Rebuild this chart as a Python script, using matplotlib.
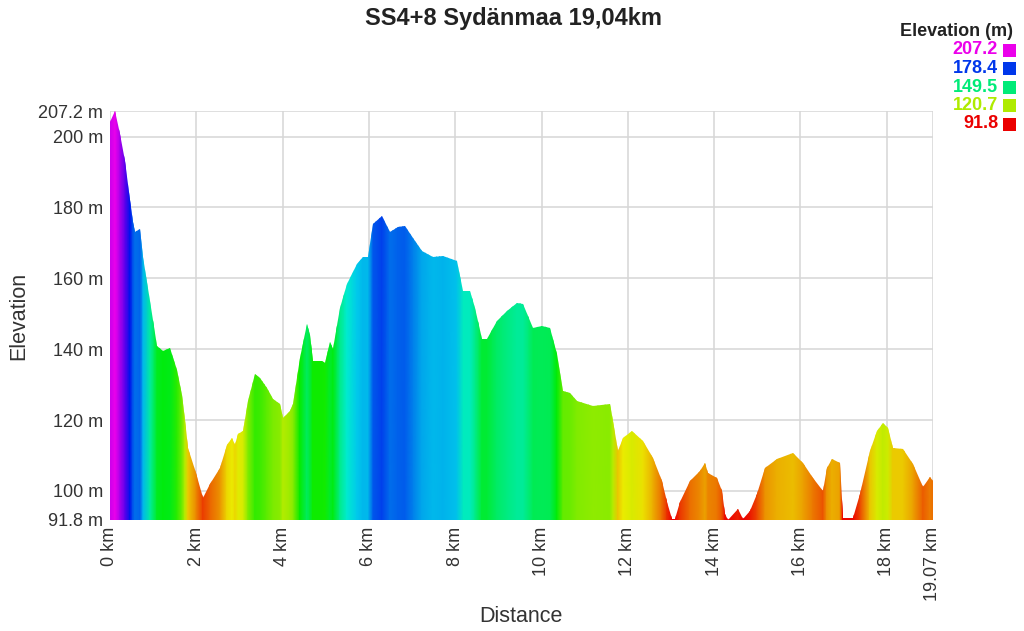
import numpy as np
import matplotlib
matplotlib.use("Agg")
import matplotlib.pyplot as plt
import matplotlib.colors as mcolors
from matplotlib.patches import Polygon

plt.rcParams['font.family'] = ['Liberation Sans', 'DejaVu Sans']

# distance (km) and elevation (m)
dist = [0.0, 0.12, 0.23, 0.35, 0.46, 0.53, 0.58, 0.70, 0.77, 0.93, 1.09, 1.23, 1.39,
        1.55, 1.67, 1.74, 1.81, 2.0, 2.15, 2.32, 2.55, 2.71, 2.83, 2.90, 2.97, 3.08,
        3.2, 3.36, 3.48, 3.63, 3.78, 3.94, 4.01, 4.17, 4.24, 4.40, 4.56, 4.63, 4.70,
        4.91, 4.98, 5.1, 5.17, 5.33, 5.49, 5.72, 5.86, 5.98, 6.1, 6.30, 6.49, 6.67,
        6.83, 7.03, 7.22, 7.48, 7.72, 8.03, 8.19, 8.34, 8.46, 8.62, 8.73, 8.96, 9.2,
        9.43, 9.58, 9.81, 10.0, 10.2, 10.35, 10.5, 10.66, 10.82, 11.2, 11.58, 11.66,
        11.77, 11.89, 12.09, 12.35, 12.58, 12.79, 12.9, 13.02, 13.09, 13.2, 13.44,
        13.67, 13.79, 13.86, 14.06, 14.18, 14.25, 14.32, 14.55, 14.67, 14.83, 14.99,
        15.18, 15.45, 15.83, 16.06, 16.29, 16.52, 16.61, 16.73, 16.91, 16.98, 17.22,
        17.38, 17.61, 17.77, 17.91, 18.03, 18.14, 18.37, 18.61, 18.84, 19.0, 19.07]
elev = [204, 207.2, 200.8, 193, 182, 176, 173, 174, 166, 153.7, 141, 139.5, 140.4,
        134, 127, 120, 112, 105, 98, 102, 106.5, 113, 115, 113, 116, 117,
        125.4, 133, 132, 129, 126, 124.5, 120.6, 122.6, 124.5, 137.6, 147, 144, 136.7,
        136.7, 136, 142, 140, 151.7, 158.5, 164, 166, 166, 175.4, 177.7, 173, 174.6,
        174.9, 171.5, 167.8, 166, 166.4, 165, 156.5, 156.5, 151.7, 143, 143, 148, 150.8,
        153, 152.8, 146, 146.6, 146, 138.7, 128.2, 127.7, 125.4, 124, 124.6, 119.8,
        111.3, 115, 117, 114, 109.3, 102.8, 97, 92, 92, 97, 102.8,
        105.6, 108, 105, 103.7, 100, 93.5, 91.8, 95, 92, 94.4, 99,
        106.5, 109, 110.7, 108, 103.7, 100, 106.5, 109, 108, 92.4, 92.4,
        99, 111.3, 117, 119.2, 117.8, 112, 111.8, 107.6, 101, 104, 102.8]

y_ticks = [91.8, 100, 120, 140, 160, 180, 200, 207.2]
y_labels = ['91.8 m', '100 m', '120 m', '140 m', '160 m', '180 m', '200 m', '207.2 m']
x_ticks = [0, 2, 4, 6, 8, 10, 12, 14, 16, 18, 19.07]
x_labels = ['0 km', '2 km', '4 km', '6 km', '8 km', '10 km', '12 km', '14 km',
            '16 km', '18 km', '19.07 km']
legend_vals = [207.2, 178.4, 149.5, 120.7, 91.8]

ymin, ymax = 91.8, 207.2
xmax = 19.07

# hue from red (low) to magenta (high)
h = np.linspace(0, 300 / 360, 256)
hsv = np.stack([h, np.ones_like(h), np.full_like(h, 0.92)], axis=1)
cmap = mcolors.ListedColormap(mcolors.hsv_to_rgb(hsv))
norm = mcolors.Normalize(ymin, ymax)

fig = plt.figure(figsize=(10.24, 6.31), dpi=100)
ax = fig.add_axes([0.1074, 0.176, 0.8037, 0.648])

d = np.array(dist)
e = np.array(elev)
X = np.vstack([d, d])
Y = np.vstack([np.full_like(d, ymin), np.full_like(d, ymax)])
C = np.vstack([e, e])
mesh = ax.pcolormesh(X, Y, C, cmap=cmap, norm=norm, shading='gouraud', zorder=2)
verts = np.column_stack([np.r_[d, d[-1], d[0]], np.r_[e, ymin, ymin]])
clip = Polygon(verts, closed=True, transform=ax.transData, facecolor='none', edgecolor='none')
ax.add_patch(clip)
mesh.set_clip_path(clip)

ax.set_xlim(0, xmax)
ax.set_ylim(ymin, ymax)
ax.set_xticks(x_ticks)
ax.set_xticklabels(x_labels, rotation=90)
ax.set_yticks(y_ticks)
ax.set_yticklabels(y_labels)
ax.tick_params(length=0, labelsize=13, colors='#333333', pad=5)
ax.grid(True, color='#d6d6d6', linewidth=1.1, zorder=0)
ax.set_axisbelow(True)
for s in ax.spines.values():
    s.set_visible(False)

fig.text(521 / 1024, 1 - 617 / 631, 'Distance', ha='center', va='center',
         fontsize=15.5, color='#333333')
fig.text(19 / 1024, 1 - 316 / 631, 'Elevation', ha='center', va='center',
         rotation=90, fontsize=15.5, color='#333333')
fig.text(0.501, 0.971, 'SS4+8 Sydänmaa 19,04km', ha='center', va='center',
         fontsize=17, fontweight='bold', color='#222222')

# colour legend
fig.text(1013 / 1024, 1 - 32 / 631, 'Elevation (m)', ha='right', va='center',
         fontsize=13, fontweight='bold', color='#222222')
for i, v in enumerate(legend_vals):
    yy = 1 - (50 + i * 18.5) / 631
    c = cmap(norm(v))
    fig.text(998 / 1024, yy, f'{v:.1f}', ha='right', va='center',
             fontsize=13, fontweight='bold', color=c)
    fig.patches.append(plt.Rectangle((1003 / 1024, yy - 6.5 / 631), 13 / 1024, 13 / 631,
                                     transform=fig.transFigure, facecolor=c,
                                     edgecolor='none'))

fig.savefig('out.png', dpi=100)
